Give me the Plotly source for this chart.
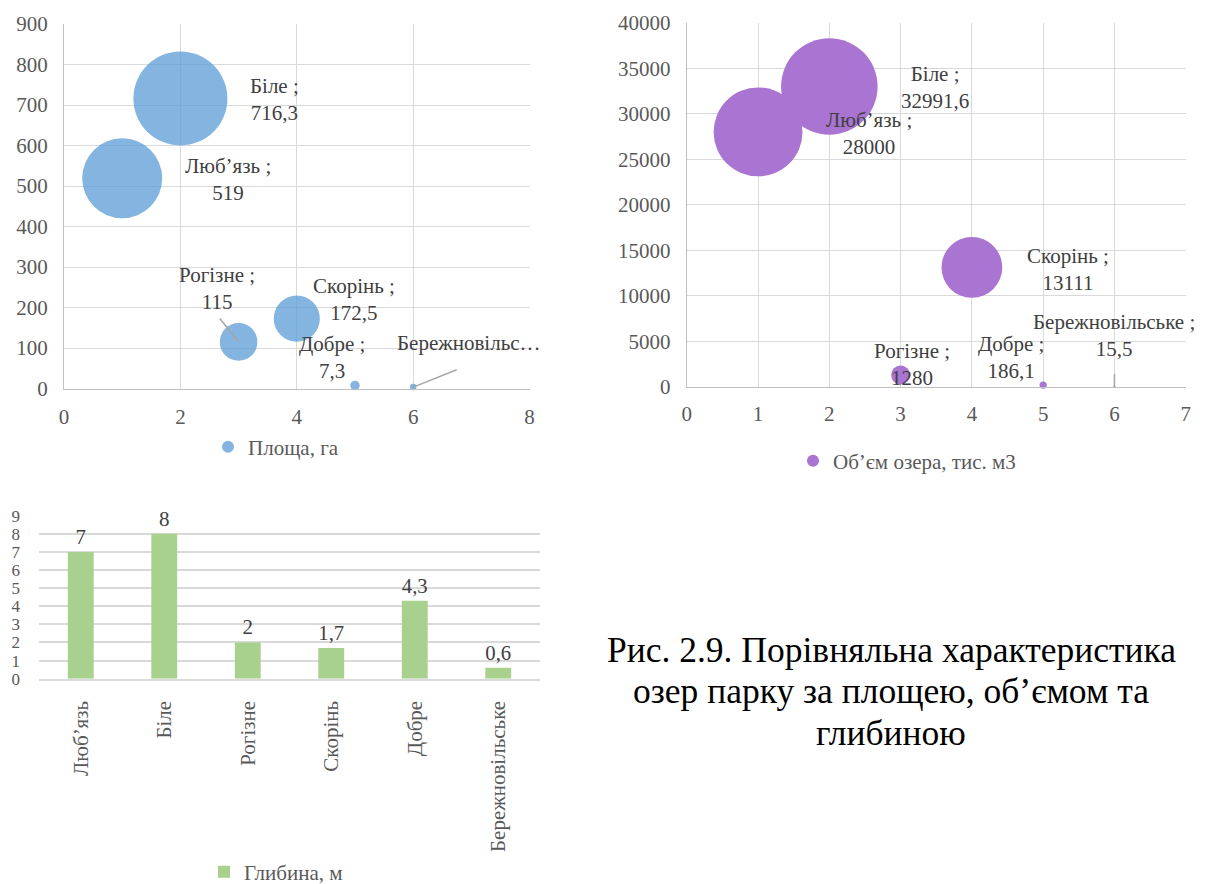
import numpy as np
import plotly.graph_objects as go

# ---- data -------------------------------------------------------------
lakes = ["Люб’язь", "Біле", "Рогізне", "Скорінь", "Добре", "Бережновільське"]
lake_no = [1, 2, 3, 4, 5, 6]
area_ha = [519, 716.3, 115, 172.5, 7.3, 3.5]
volume_tm3 = [28000, 32991.6, 1280, 13111, 186.1, 15.5]
depth_m = [7, 8, 2, 1.7, 4.3, 0.6]

area_name = "Площа, га"
volume_name = "Об’єм озера, тис. м3"
depth_name = "Глибина, м"
caption_lines = [
    "Рис. 2.9. Порівняльна характеристика",
    "озер парку за площею, об’ємом та",
    "глибиною",
]

# ---- styling -----------------------------------------------------------
W, H = 1206, 884
FONT = "'Liberation Serif', 'Times New Roman', 'DejaVu Serif', serif"
TICK_C = "#595959"
LABEL_C = "#404040"
GRID_C = "#D9D9D9"
AXLINE_C = "#BFBFBF"
BLUE = "#5B9BD5"
PURPLE = "#A974D2"
GREEN = "#A9D18E"
LEADER_C = "#A6A6A6"


def fx(px):
    return px / W


def fy(px):
    return 1 - px / H


def fmt(v):
    s = f"{v:g}"
    return s.replace(".", ",")


# bubble diameters scale with the square root of the value (area-proportional)
area_arr = np.array(area_ha, dtype=float)
vol_arr = np.array(volume_tm3, dtype=float)
area_size = 94 * np.sqrt(area_arr / area_arr.max())
vol_size = 96.5 * np.sqrt(vol_arr / vol_arr.max())

fig = go.Figure()

fig.add_trace(go.Scatter(
    x=lake_no, y=area_ha, mode="markers", name=area_name,
    marker=dict(size=area_size, sizemode="diameter", color=BLUE, opacity=0.75,
                line=dict(width=0)),
    xaxis="x", yaxis="y", legend="legend", cliponaxis=False,
))
fig.add_trace(go.Scatter(
    x=lake_no, y=volume_tm3, mode="markers", name=volume_name,
    marker=dict(size=vol_size, sizemode="diameter", color=PURPLE, opacity=1,
                line=dict(width=0)),
    xaxis="x2", yaxis="y2", legend="legend2", cliponaxis=False,
))
fig.add_trace(go.Bar(
    x=lakes, y=depth_m, name=depth_name, marker=dict(color=GREEN, line=dict(width=0)),
    text=[fmt(v) for v in depth_m], textposition="outside", cliponaxis=False,
    textfont=dict(family=FONT, size=21, color=LABEL_C),
    xaxis="x3", yaxis="y3", legend="legend3",
))

tickfont = dict(family=FONT, size=21, color=TICK_C)
common_axis = dict(showgrid=True, gridcolor=GRID_C, gridwidth=1, zeroline=False,
                   ticks="", tickfont=tickfont, fixedrange=True)

annotations = []

# data labels, area chart (pixel offsets from each bubble)
area_offsets = [(106, -1), (94, -1), (-22, 53), (57, 19), (-23, 28), (56, 44)]
for i, (dx, dy) in enumerate(area_offsets):
    name = lakes[i]
    if i == 5:
        text = name[:12] + "…"
    else:
        text = f"{name} ;<br>{fmt(area_ha[i])}"
    annotations.append(dict(x=lake_no[i], y=area_ha[i], xref="x", yref="y",
                            text=text, showarrow=False, xshift=dx, yshift=dy,
                            font=dict(family=FONT, size=21, color=LABEL_C), align="center"))

# leader lines, area chart
for i, (ax, ay) in [(2, (-20, -25)), (5, (45, -18))]:
    annotations.append(dict(x=lake_no[i], y=area_ha[i], xref="x", yref="y", text="",
                            showarrow=True, arrowhead=0, ax=ax, ay=ay, standoff=0,
                            arrowcolor=LEADER_C, arrowwidth=1.5, font=dict(size=1)))

# data labels, volume chart
vol_offsets = [(111, -2), (106, -1), (11, 11), (96, -2), (-32, 28), (0, 51)]
for i, (dx, dy) in enumerate(vol_offsets):
    text = f"{lakes[i]} ;<br>{fmt(volume_tm3[i])}"
    annotations.append(dict(x=lake_no[i], y=volume_tm3[i], xref="x2", yref="y2",
                            text=text, showarrow=False, xshift=dx, yshift=dy,
                            font=dict(family=FONT, size=21, color=LABEL_C), align="center"))
annotations.append(dict(x=lake_no[5], y=volume_tm3[5], xref="x2", yref="y2", text="",
                        showarrow=True, arrowhead=0, ax=0, ay=-14, standoff=0,
                        arrowcolor=LEADER_C, arrowwidth=1.5, font=dict(size=1)))

# caption
for line, ypx in zip(caption_lines, [650, 691, 733]):
    annotations.append(dict(x=fx(891), y=fy(ypx), xref="paper", yref="paper",
                            text=line, showarrow=False, xanchor="center", yanchor="middle",
                            font=dict(family=FONT, size=35.5, color="#000000")))

legend_common = dict(orientation="h", bgcolor="rgba(0,0,0,0)", itemsizing="constant",
                     font=dict(family=FONT, size=21, color=TICK_C),
                     xanchor="center", yanchor="middle", borderwidth=0)

fig.update_layout(
    width=W, height=H, margin=dict(l=0, r=0, t=0, b=0, autoexpand=False),
    paper_bgcolor="white", plot_bgcolor="white",
    font=dict(family=FONT, color=TICK_C),
    bargap=0.69,
    xaxis=dict(domain=[fx(64), fx(529.6)], range=[0, 8], dtick=2, anchor="y",
               showline=True, linecolor=AXLINE_C, ticklabelstandoff=9,
               **common_axis),
    yaxis=dict(domain=[fy(388.5), fy(24)], range=[0, 900], dtick=100, anchor="x",
               showline=True, linecolor=AXLINE_C, ticklabelstandoff=11, **common_axis),
    xaxis2=dict(domain=[fx(686.8), fx(1185.7)], range=[0, 7], dtick=1, anchor="y2",
                showline=True, linecolor=AXLINE_C, ticklabelstandoff=8, **common_axis),
    yaxis2=dict(domain=[fy(386.7), fy(22.7)], range=[0, 40000], dtick=5000, anchor="x2",
                tickformat="d", showline=True, linecolor=AXLINE_C, ticklabelstandoff=11,
                **common_axis),
    xaxis3=dict(domain=[fx(39), fx(540)], anchor="y3", showgrid=False, zeroline=False,
                ticks="", tickfont=tickfont, tickangle=-90, showline=True,
                linecolor=GRID_C, linewidth=1.5, ticklabelstandoff=12, fixedrange=True),
    yaxis3=dict(domain=[fy(678.7), fy(515.7)], range=[0, 9], dtick=1, anchor="x3",
                showgrid=True, gridcolor=GRID_C, gridwidth=1.5, zeroline=False,
                ticks="", tickfont=dict(family=FONT, size=17, color=TICK_C),
                ticklabelstandoff=18, fixedrange=True),
    legend=dict(x=fx(276), y=fy(447), **legend_common),
    legend2=dict(x=fx(907), y=fy(461), **legend_common),
    legend3=dict(x=fx(276), y=fy(872), **legend_common),
    annotations=annotations,
    showlegend=True,
)

fig.write_html("out.html")
